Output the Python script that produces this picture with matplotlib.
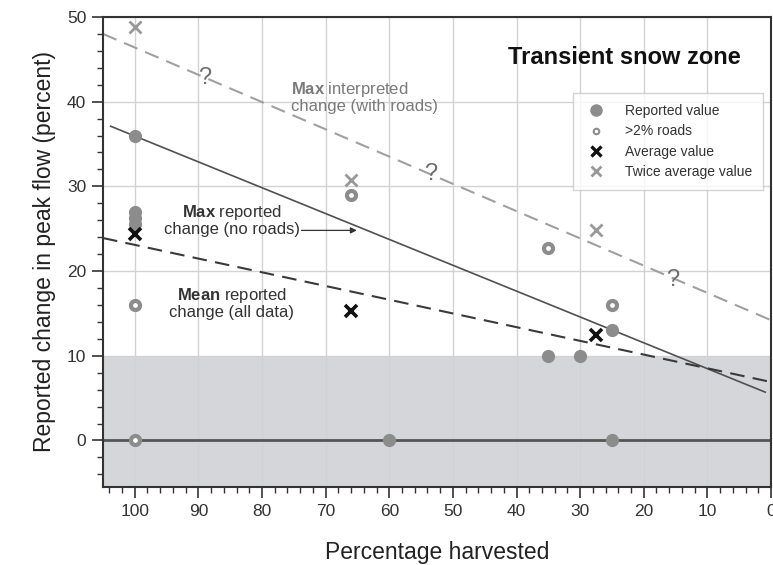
import numpy as np
import matplotlib
matplotlib.use("Agg")
import matplotlib.pyplot as plt
from matplotlib.lines import Line2D

plt.rcParams['font.family'] = ['Liberation Sans', 'DejaVu Sans']
plt.rcParams['mathtext.fontset'] = 'custom'
plt.rcParams['mathtext.rm'] = 'Liberation Sans'
plt.rcParams['mathtext.bf'] = 'Liberation Sans:bold'

# reported values (filled gray dots)
reported_x = [100, 100, 100, 100, 60, 25, 35, 30, 25]
reported_y = [36, 27, 26.3, 25.6, 0, 0, 10, 10, 13]

# sites with >2% roads (open rings)
roads_x = [100, 100, 66, 35, 25]
roads_y = [16, 0, 29, 22.7, 16]

# averages and twice the averages
avg_x = [100, 66, 27.5]
avg_y = [24.4, 15.3, 12.4]
twice_x = [100, 66, 27.5]
twice_y = [48.8, 30.7, 24.9]

# question marks sitting on the interpreted line
qmark_x = [89, 53.5, 15.5]
qmark_y = [42.8, 31.5, 19.0]

# envelope lines (end points)
max_interp_x = [105, 0]
max_interp_y = [48.0, 14.2]
max_rep_x = [103.8, 0.9]
max_rep_y = [37.1, 5.7]
mean_rep_x = [105, 0]
mean_rep_y = [23.9, 6.9]

gray = '#8c8c8c'

fig = plt.figure(figsize=(7.73, 5.65), dpi=100)
ax = fig.add_axes([0.1332, 0.138, 0.8642, 0.832])

ax.axhspan(-10, 10, color='#d5d6d9', zorder=0.2, lw=0)
ax.axhline(0, color='#555555', lw=2, zorder=1)

ax.plot(max_interp_x, max_interp_y, color='#a0a0a0', lw=1.5, dashes=(7, 4), zorder=2)
ax.plot(max_rep_x, max_rep_y, color='#505050', lw=1.2, zorder=2)
ax.plot(mean_rep_x, mean_rep_y, color='#3a3a3a', lw=1.5, dashes=(7, 4), zorder=2)

ax.plot(reported_x, reported_y, 'o', ms=9.5, color=gray, mec='none', zorder=3)
ax.plot(roads_x, roads_y, 'o', ms=6.5, mfc='white', mec=gray, mew=3, zorder=3)
ax.plot(avg_x, avg_y, 'x', ms=8, color='#111111', mew=2.6, zorder=4)
ax.plot(twice_x, twice_y, 'x', ms=8, color='#999999', mew=2, zorder=4)

for qx, qy in zip(qmark_x, qmark_y):
    ax.text(qx, qy, '?', fontsize=17, color='#6e6e6e', ha='center', va='center', zorder=4)

ax.text(23, 45.2, 'Transient snow zone', fontsize=17, fontweight='bold',
        ha='center', va='center', color='#111111')
ax.text(75.5, 40.5, '$\\bf{Max}$ interpreted\nchange (with roads)', fontsize=12,
        color='#7a7a7a', ha='left', va='center', linespacing=1.0)
ax.text(84.75, 26.0, '$\\bf{Max}$ reported\nchange (no roads)', fontsize=12,
        color='#333333', ha='center', va='center', multialignment='center', linespacing=1.0)
ax.text(84.75, 16.25, '$\\bf{Mean}$ reported\nchange (all data)', fontsize=12,
        color='#333333', ha='center', va='center', multialignment='center', linespacing=1.0)
ax.annotate('', xy=(65.1, 24.8), xytext=(73.8, 24.8),
            arrowprops=dict(arrowstyle='-|>', color='#333333', lw=0.9,
                            mutation_scale=9, shrinkA=0, shrinkB=0))

ax.set_xlim(105, 0)
ax.set_ylim(-5.5, 50)
ax.set_xticks(np.arange(100, -1, -10))
ax.set_xticks(np.arange(104, -1, -2), minor=True)
ax.set_yticks(np.arange(0, 51, 10))
ax.set_yticks(np.arange(-4, 51, 2), minor=True)
ax.tick_params(which='major', length=8, width=1.2, color='#333333',
               labelsize=12.5, labelcolor='#333333', pad=4)
ax.tick_params(which='minor', length=4, width=1, color='#333333')
ax.set_axisbelow(True)
ax.grid(True, which='major', color='#d2d2d2', lw=1)
for s in ax.spines.values():
    s.set_color('#333333')
    s.set_linewidth(1.5)

ax.set_xlabel('Percentage harvested', fontsize=16.5, color='#222222', labelpad=16)
ax.set_ylabel('Reported change in peak flow (percent)', fontsize=16.5, color='#222222', labelpad=8)

handles = [
    Line2D([], [], ls='none', marker='o', ms=9, color=gray, mec='none'),
    Line2D([], [], ls='none', marker='o', ms=4, mfc='white', mec=gray, mew=1.5),
    Line2D([], [], ls='none', marker='x', ms=7, color='#111111', mew=2.4),
    Line2D([], [], ls='none', marker='x', ms=7, color='#999999', mew=2),
]
labels = ['Reported value', '>2% roads', 'Average value', 'Twice average value']
leg = ax.legend(handles, labels, loc='upper right', bbox_to_anchor=(0.988, 0.838),
                borderaxespad=0, fontsize=10, frameon=True, fancybox=False,
                edgecolor='#c8c8c8', labelspacing=0.45, borderpad=0.8,
                handletextpad=1.15, handlelength=1.8)
leg.get_frame().set_linewidth(1)
for t in leg.get_texts():
    t.set_color('#333333')

fig.savefig('out.png', dpi=100)
